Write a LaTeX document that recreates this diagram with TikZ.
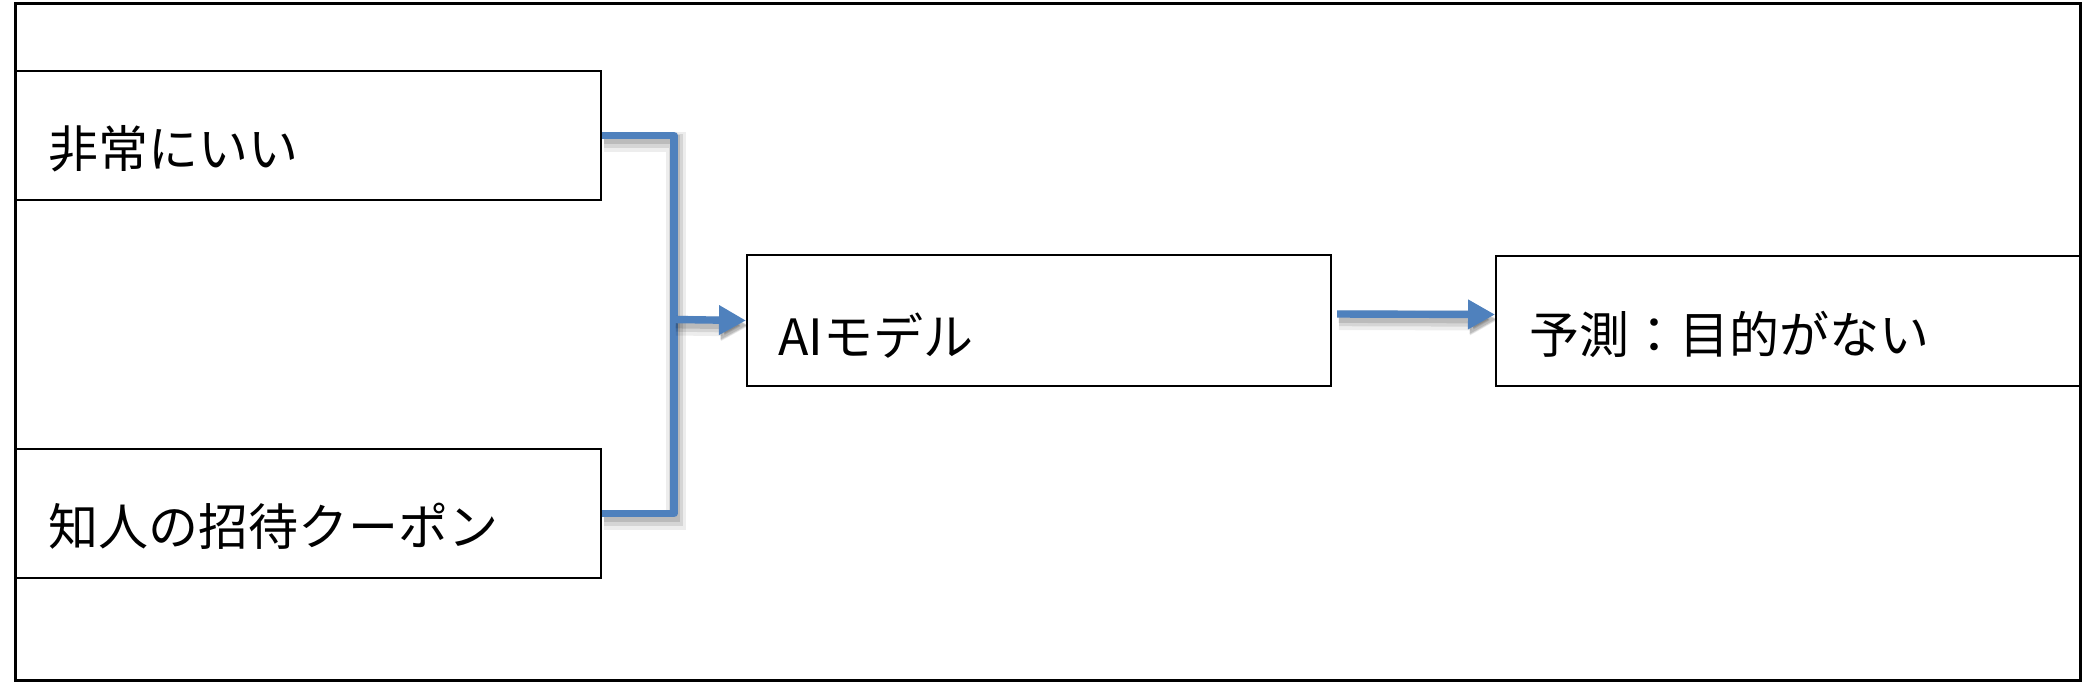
\documentclass[tikz,border=0pt]{standalone}
\usepackage{fontspec}
\newfontfamily\jp{Noto Sans CJK JP}
\usetikzlibrary{arrows.meta}
\definecolor{lineblue}{RGB}{79,129,189}
\begin{document}
\begin{tikzpicture}[x=0.5pt,y=-0.5pt,
  framebox/.style={draw=black,line width=1.5pt,inner sep=0pt,anchor=north west},
  box/.style={draw=black,line width=1pt,inner sep=0pt,anchor=north west,fill=white},
  lbl/.style={anchor=base west,inner sep=0pt,font=\jp\fontsize{25}{30}\selectfont},
  conn/.style={draw=lineblue,line width=3.7pt,line join=round,
    preaction={draw=black,opacity=0.07,line width=10pt,transform canvas={shift={(1pt,-3pt)}}},
    preaction={draw=black,opacity=0.10,line width=7pt,transform canvas={shift={(1pt,-2.6pt)}}},
    preaction={draw=black,opacity=0.12,line width=4.5pt,transform canvas={shift={(0.8pt,-2.2pt)}}}},
  tip/.style={-{Triangle[length=13.5pt,width=14pt]}}
]
\useasboundingbox (0,0) rectangle (2082,681);
\node[framebox,minimum width=1032.5pt,minimum height=338.5pt] (frame) at (14,2) {};
\node[box,minimum width=292.5pt,minimum height=64.5pt] (b1) at (15,70) {};
\node[box,minimum width=292.5pt,minimum height=64.5pt] (b2) at (15,448) {};
\node[box,minimum width=292pt,minimum height=65.5pt] (ai) at (746,254) {};
\node[box,minimum width=292pt,minimum height=65pt] (pred) at (1495,255) {};
\node[lbl] (t1) at (48,167) {非常にいい};
\node[lbl] (t2) at (48,545) {知人の招待クーポン};
\node[lbl] (t3) at (778,355) {AIモデル};
\node[lbl] (t4) at (1529,353) {予測：目的がない};
\coordinate (j) at (674,319.5);
\draw[conn] (b1.east) -| (j) |- (b2.east);
\draw[conn,tip] (j) -- (ai.west);
\draw[conn,tip] ([shift={(5,-6.5)}]ai.east) -- ([yshift=3.25pt]pred.west);
\end{tikzpicture}
\end{document}
